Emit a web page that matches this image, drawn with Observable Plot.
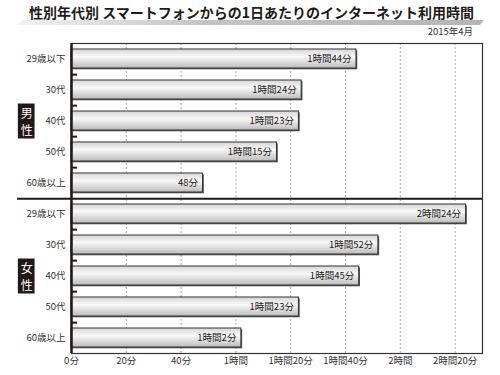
<!DOCTYPE html>
<html><head><meta charset="utf-8">
<script src="https://cdn.jsdelivr.net/npm/d3@7"></script>
<script src="https://cdn.jsdelivr.net/npm/@observablehq/plot@0.6"></script>
<style>
body{margin:0;background:#fff;font-family:"Noto Sans CJK JP",sans-serif;}
#wrap{position:relative;width:500px;height:375px;overflow:hidden;}
#wrap svg{position:absolute;left:0;top:0;}
#bar{position:absolute;left:18px;top:20px;width:466px;height:5px;background:linear-gradient(to right,#f2f2f2,#c4c4c4 40%,#b5b5b5);clip-path:polygon(4px 0,100% 0,calc(100% - 4px) 100%,0 100%);}
#title{position:absolute;left:29px;top:5px;font-size:14px;font-weight:bold;color:#231815;line-height:1;white-space:nowrap;}
#date{position:absolute;right:27px;top:27px;font-size:9.5px;color:#333;line-height:1;}
</style></head>
<body><div id="wrap"><div id="bar"></div><div id="title"></div><div id="date"></div></div>
<script>
const titleText = "性別年代別 スマートフォンからの1日あたりのインターネット利用時間";
const dateText = "2015年4月";
const sexes = ["男", "女"];
const sexLabels = ["男\n性", "女\n性"];
const ages = ["29歳以下", "30代", "40代", "50代", "60歳以上"];
const maleMinutes = [104, 84, 83, 75, 48];
const femaleMinutes = [144, 112, 105, 83, 62];
const maleLabels = ["1時間44分", "1時間24分", "1時間23分", "1時間15分", "48分"];
const femaleLabels = ["2時間24分", "1時間52分", "1時間45分", "1時間23分", "1時間2分"];
const xTicks = [0, 20, 40, 60, 80, 100, 120, 140];
const xTickLabels = ["0分", "20分", "40分", "1時間", "1時間20分", "1時間40分", "2時間", "2時間20分"];

document.getElementById("title").textContent = titleText;
document.getElementById("date").textContent = dateText;

const values = [maleMinutes, femaleMinutes];
const labels = [maleLabels, femaleLabels];
const rows = sexes.flatMap((s, i) => ages.map((a, j) => ({key: s + "|" + a, sex: s, age: a, value: values[i][j], label: labels[i][j]})));
const keys = rows.map(r => r.key);

const H = 375, mTop = 43, mBottom = 22;
const pIn = 0.39, pOut = 0.15;
const step = (H - mTop - mBottom) / (keys.length - pIn + 2 * pOut);
const ink = "#231815";
const font = '"Noto Sans CJK JP", sans-serif';

const groups = sexes.map((s, i) => ({key: s + "|" + ages[2], t: sexLabels[i]}));

const chart = Plot.plot({
  width: 500, height: H,
  marginTop: mTop, marginBottom: mBottom, marginLeft: 71, marginRight: 18,
  style: {fontFamily: font, fontSize: "9.5px", color: "#333", background: "transparent"},
  x: {domain: [0, 150], ticks: xTicks, tickFormat: d => xTickLabels[xTicks.indexOf(d)], tickSize: 0, tickPadding: 4, label: null},
  y: {domain: keys, paddingInner: pIn, paddingOuter: pOut, tickFormat: k => k.split("|")[1], tickSize: 0, tickPadding: 6, label: null},
  marks: [
    Plot.ruleX(xTicks.filter(d => d > 0), {stroke: "#888", strokeDasharray: "2,2", strokeWidth: 0.7}),
    Plot.barX(rows, {x: "value", y: "key", fill: "#555", dx: 1.3, dy: 1.3}),
    Plot.barX(rows, {x: "value", y: "key", fill: "url(#barGrad)", stroke: "#333", strokeWidth: 1}),
    Plot.text(rows, {x: "value", y: "key", text: "label", textAnchor: "end", dx: -5, fill: ink, fontSize: 9.5}),
    Plot.frame({stroke: "#333", strokeWidth: 1.2}),
    Plot.ruleX([0], {stroke: ink, strokeWidth: 2.5}),
    Plot.ruleY(rows.filter(r => r.age !== ages[ages.length - 1]), {y: "key", x1: 0, x2: 2.2, dy: step / 2, stroke: ink, strokeWidth: 2}),
    Plot.ruleY([keys[ages.length - 1]], {y: d => d, x1: -19.7, x2: 150, dy: step / 2, stroke: ink, strokeWidth: 2}),
    Plot.ruleY(groups, {y: "key", x1: -19.4, x2: -13.3, stroke: ink, strokeWidth: 35}),
    Plot.text(groups, {y: "key", x: -16.35, text: "t", fill: "white", fontSize: 12, lineHeight: 1.4})
  ]
});

const defs = d3.select(chart).insert("defs", ":first-child");
const g = defs.append("linearGradient").attr("id", "barGrad").attr("x1", 0).attr("y1", 0).attr("x2", 0).attr("y2", 1);
g.append("stop").attr("offset", "0%").attr("stop-color", "#d6d6d6");
g.append("stop").attr("offset", "40%").attr("stop-color", "#f8f8f8");
g.append("stop").attr("offset", "100%").attr("stop-color", "#bcbcbc");

document.getElementById("wrap").prepend(chart);
</script>
</body></html>
